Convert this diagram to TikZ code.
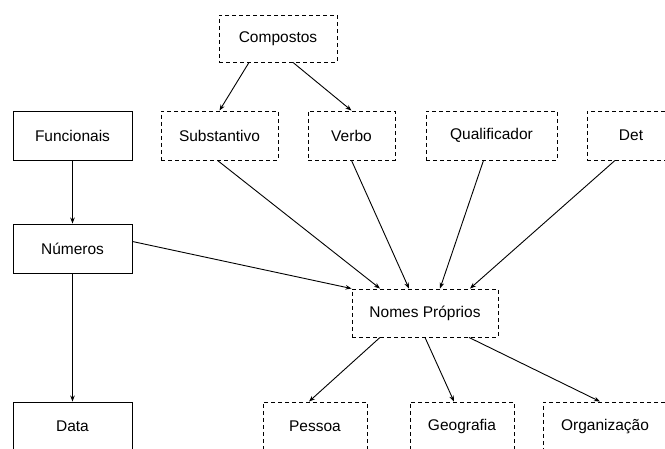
\documentclass[tikz,border=0pt]{standalone}
\usepackage{fontspec}
\setmainfont{Liberation Sans}
\usetikzlibrary{arrows.meta}
\begin{document}
\begin{tikzpicture}[x=1pt,y=-1pt,
  box/.style={draw, line width=0.9pt, rectangle, inner sep=0pt, minimum height=49pt, font=\fontsize{15.5}{18}\selectfont},
  dbox/.style={box, dash pattern=on 4pt off 3pt},
  arr/.style={line width=0.9pt, -{Stealth[length=6pt,width=4.5pt]}}]
\useasboundingbox (0,0) rectangle (665,449);
\clip (0,0) rectangle (665,449);
\node[dbox, minimum width=118pt, minimum height=47pt] (comp) at (278,38.5) {Compostos};
\node[box, minimum width=119pt] (func) at (72.5,135.5) {Funcionais};
\node[dbox, minimum width=117pt] (subs) at (219.5,135.5) {Substantivo};
\node[dbox, minimum width=87pt] (verb) at (351.5,135.5) {Verbo};
\node[dbox, minimum width=131pt] (qual) at (491.5,135.5) {Qualificador};
\node[dbox, minimum width=88pt] (det) at (631,135.5) {Det};
\node[box, minimum width=119pt] (num) at (72.5,248.5) {Números};
\node[dbox, minimum width=146pt, minimum height=48pt] (nomes) at (425,313) {Nomes Próprios};
\node[box, minimum width=119pt] (data) at (72.5,426.5) {Data};
\node[dbox, minimum width=104pt] (pess) at (315,426.5) {Pessoa};
\node[dbox, minimum width=104pt] (geo) at (462,426.5) {Geografia};
\node[dbox, minimum width=124pt] (org) at (605,426.5) {Organização};

\draw[arr] ([xshift=-29pt]comp.south) -- (subs.north);
\draw[arr] ([xshift=15pt]comp.south) -- (verb.north);
\draw[arr] (func.south) -- (num.north);
\draw[arr] (num.south) -- (data.north);
\draw[arr] ([yshift=7pt]num.east) -- (nomes.north west);
\draw[arr] ([xshift=-2pt]subs.south) -- ([xshift=-45pt]nomes.north);
\draw[arr] (verb.south) -- ([xshift=-16pt]nomes.north);
\draw[arr] ([xshift=-8pt]qual.south) -- ([xshift=15pt]nomes.north);
\draw[arr] ([xshift=-16pt]det.south) -- ([xshift=45pt]nomes.north);
\draw[arr] ([xshift=-45pt]nomes.south) -- ([xshift=-6pt]pess.north);
\draw[arr] (nomes.south) -- ([xshift=-8pt]geo.north);
\draw[arr] ([xshift=44pt]nomes.south) -- ([xshift=-5pt]org.north);
\end{tikzpicture}
\end{document}
